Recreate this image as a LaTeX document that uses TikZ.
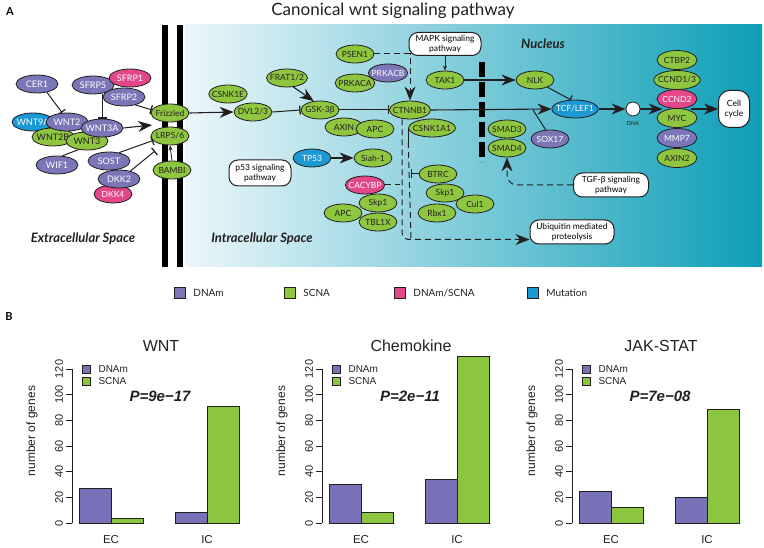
\documentclass[tikz,border=0pt]{standalone}
\usepackage{fontspec}
\setmainfont{Lato}
\newfontfamily\rplot{Liberation Sans}
\usepackage{xcolor}
\usetikzlibrary{positioning, arrows.meta, calc, shapes.geometric, backgrounds}
\definecolor{ink}{RGB}{35,31,32}
\definecolor{dnam}{RGB}{123,118,183}
\definecolor{scna}{RGB}{143,198,64}
\definecolor{mixc}{RGB}{228,71,137}
\definecolor{mut}{RGB}{28,152,212}
\definecolor{tealL}{RGB}{236,247,250}
\definecolor{tealM}{RGB}{90,186,205}
\definecolor{tealR}{RGB}{12,158,183}
\definecolor{barP}{RGB}{120,115,185}
\definecolor{barG}{RGB}{140,197,62}

\begin{document}
\begin{tikzpicture}[
  x=1pt, y=-1pt,
  gene/.style={ellipse, draw=ink, line width=0.8pt, minimum width=38pt,
               minimum height=18pt, inner xsep=-2.5pt, inner ysep=0.5pt,
               font=\fontsize{8.5}{9}\selectfont},
  sc/.style={gene, fill=scna, text=ink},
  dm/.style={gene, fill=dnam, text=white},
  mx/.style={gene, fill=mixc, text=white},
  mu/.style={gene, fill=mut, text=white},
  ext/.style={minimum width=42pt, minimum height=18pt, font=\fontsize{9}{10}\selectfont},
  tall/.style={minimum width=40pt, minimum height=19pt},
  pathbox/.style={rectangle, rounded corners=9pt, draw=ink, line width=1pt,
                  fill=white, align=center, inner sep=1.5pt,
                  font=\fontsize{8.5}{9.5}\selectfont},
  region/.style={font=\bfseries\itshape\fontsize{13}{14}\selectfont, text=ink},
  act/.style={-{Stealth[length=14pt,width=11pt,inset=4.5pt]}, line width=1.1pt, draw=ink},
  tip/.style={-{Stealth[length=5pt,width=4pt]}, line width=0.8pt, draw=ink},
  inh/.style={-{Bar[width=9pt,line width=1.3pt]}, line width=1pt, draw=ink},
  dsh/.style={dash pattern=on 6pt off 4pt, line width=1pt, draw=ink},
  key/.style={rectangle, draw=ink, line width=0.8pt, minimum size=11pt, inner sep=0},
  keytext/.style={anchor=west, font=\fontsize{10}{11}\selectfont, text=ink},
]
\useasboundingbox (0,0) rectangle (764,548);

% Panel A: headings
\node[font=\bfseries\fontsize{11}{12}\selectfont] (labA) at (10,12) {A};
\node[font=\fontsize{17}{18}\selectfont, text=ink] (title) at (393,11) {Canonical wnt signaling pathway};

% Extracellular space
\node[dm, ext] (cer1)  at (37,84)   {CER1};
\node[dm, ext] (sfrp5) at (93,85)   {SFRP5};
\node[mx, ext] (sfrp1) at (130,78)  {SFRP1};
\node[dm, ext] (sfrp2) at (124,97)  {SFRP2};
\node[mu, ext] (wnt9a) at (33,122)  {WNT9A};
\node[sc, ext] (wnt2b) at (53,137)  {WNT2B};
\node[sc, ext] (wnt3)  at (87,141)  {WNT3};
\node[dm, ext] (wnt2)  at (67,122)  {WNT2};
\node[dm, ext] (wnt3a) at (102,128) {WNT3A};
\node[dm, ext] (wif1)  at (57,165)  {WIF1};
\node[dm, ext] (sost)  at (109,161) {SOST};
\node[mx]      (dkk4)  at (113,194) {DKK4};
\node[dm, ext] (dkk2)  at (119,179) {DKK2};
\node[region] (extra) at (83,239) {Extracellular Space};

% Membrane receptors
\node[sc] (frizzled) at (170,113) {Frizzled};
\node[sc] (lrp)      at (170,136) {LRP5/6};
\node[sc] (bambi)    at (172,170) {BAMBI};
\coordinate (rec)    at (152,125);
\coordinate (dkkend) at (155,151);

% Cytoplasm
\node[sc] (csnk1e)  at (228,94)  {CSNK1E};
\node[sc] (dvl)     at (253,112) {DVL2/3};
\node[sc] (frat)    at (287,78)  {FRAT1/2};
\node[sc] (gsk)     at (320,110) {GSK-3β};
\node[sc] (psen1)   at (355,54)  {PSEN1};
\node[sc] (prkaca)  at (355,83)  {PRKACA};
\node[dm] (prkacb)  at (388,73)  {PRKACB};
\node[sc] (ctnnb1)  at (410,110) {CTNNB1};
\node[sc] (axin)    at (344,127) {AXIN};
\node[sc] (apca)    at (375,129) {APC};
\node[sc] (csnk1a1) at (432,128) {CSNK1A1};
\node[mu] (tp53)    at (312,158) {TP53};
\node[pathbox, minimum width=62pt, minimum height=26pt] (p53) at (260,173) {p53 signaling\\pathway};
\node[sc] (siah)    at (373,158) {Siah-1};
\node[mx] (cacybp)  at (365,185) {CACYBP};
\node[sc] (apcb)    at (343,213) {APC};
\node[sc] (skpb)    at (378,203) {Skp1};
\node[sc] (tbl1x)   at (378,222) {TBL1X};
\node[sc] (cul1)    at (475,204) {Cul1};
\node[sc] (btrc)    at (438,174) {BTRC};
\node[sc] (skpa)    at (445,193) {Skp1};
\node[sc] (rbx1)    at (437,213) {Rbx1};
\node[pathbox, minimum width=72pt, minimum height=23pt] (mapk) at (445,44) {MAPK signaling\\pathway};
\node[sc] (tak1)    at (445,80)  {TAK1};
\node[pathbox, minimum width=84pt, minimum height=24pt] (ubi) at (572,232) {Ubiquitin mediated\\proteolysis};
\coordinate (deg) at (411,238);
\node[region] (intra) at (262,239) {Intracellular Space};

% Nucleus
\node[region] (nucl) at (543,44) {Nucleus};
\node[sc] (nlk)   at (535,80)  {NLK};
\node[sc] (smad3) at (507,129) {SMAD3};
\node[sc] (smad4) at (507,148) {SMAD4};
\node[dm] (sox17) at (550,139) {SOX17};
\node[mu, minimum width=42pt] (tcf) at (575,109) {TCF/LEF1};
\coordinate (soxj) at (533,110);
\node[circle, draw=ink, line width=0.8pt, fill=white, minimum size=14pt, inner sep=0] (dna) at (633,109) {};
\node[font=\fontsize{5.5}{6}\selectfont, text=ink] (dnalab) at (633,124) {DNA};
\node[sc, tall] (ctbp2)  at (677,60)  {CTBP2};
\node[sc, tall] (ccnd13) at (677,80)  {CCND1/3};
\node[mx, tall] (ccnd2)  at (677,99)  {CCND2};
\node[sc, tall] (myc)    at (677,118) {MYC};
\node[dm, tall] (mmp7)   at (677,138) {MMP7};
\node[sc, tall] (axin2)  at (677,158) {AXIN2};
\node[pathbox, rounded corners=11pt, minimum width=31pt, minimum height=37pt,
      font=\fontsize{8.5}{10}\selectfont] (cell) at (734,109) {Cell\\cycle};
\node[pathbox, minimum width=75pt, minimum height=24pt] (tgf) at (611,185) {TGF-β signaling\\pathway};

% Legend
\node[key, fill=dnam] (kdnam) at (180,293) {};
\node[keytext] at ([xshift=4pt]kdnam.east) {DNAm};
\node[key, fill=scna] (kscna) at (290,293) {};
\node[keytext] at ([xshift=4pt]kscna.east) {SCNA};
\node[key, fill=mixc] (kmix) at (400,293) {};
\node[keytext] at ([xshift=4pt]kmix.east) {DNAm/SCNA};
\node[key, fill=mut] (kmut) at (533,293) {};
\node[keytext] at ([xshift=4pt]kmut.east) {Mutation};

\begin{scope}[on background layer]
  % cell and nuclear compartments
  \shade[left color=tealL, middle color=tealM, right color=tealR] (185,25) rectangle (762,267);
  \fill[black] (162,25) rectangle (168,267);
  \fill[black] (177,25) rectangle (183,267);
  \draw[black, line width=6pt, dash pattern=on 15pt off 5pt] (482,62) -- (482,162);

  % extracellular interactions
  \draw[inh] (cer1.-40) -- ([xshift=-5pt]wnt2.north);
  \draw[inh] (sfrp5.south -| wnt3a.north) -- (wnt3a.north);
  \draw[inh] (sfrp2.-35) -- (frizzled.170);
  \draw[act] (wnt3a.east) -- (rec);
  \draw[ink, line width=1pt] (wif1.60) -- (wnt3.225);
  \draw[inh] (sost.40) -- (lrp.195);
  \draw[inh] (dkk2.35) -- (dkkend);
  \draw[tip] (bambi.north) -- (lrp.south);

  % cytoplasm
  \draw[act] (frizzled.east) -- (dvl.west);
  \draw[inh] (dvl.east) -- (gsk.west);
  \draw[act] (frat.-55) -- (gsk.125);
  \draw[inh] (gsk.east) -- (ctnnb1.west);
  \draw[dsh, -{Stealth[length=14pt,width=11pt,inset=4.5pt]}] (psen1.east) -| (ctnnb1.north);
  \draw[act] (tp53.east) -- (siah.west);
  \draw[dsh, rounded corners=7pt, -{Stealth[length=14pt,width=11pt,inset=4.5pt]}]
    ([xshift=-8pt]ctnnb1.south) |- ([yshift=5pt]ubi.south west);
  \draw[dsh] (cacybp.east) -- ++(15,0);
  \draw[ink, line width=1pt] (csnk1a1.west) -- ++(0,14);
  \draw[dsh] ([yshift=-14pt]csnk1a1.west) -- (deg);
  \draw[inh] (btrc.west) -- (btrc.west -| deg);

  % nucleus
  \draw[tip] (mapk.south) -- (tak1.north);
  \draw[act] (tak1.east) -- (nlk.west);
  \draw[act] (ctnnb1.east) -- (tcf.west);
  \draw[ink, line width=1pt] (soxj) -- (sox17.115);
  \draw[inh] (nlk.-30) -- (tcf.115);
  \draw[act] (tcf.east) -- (dna.west);
  \draw[act] (dna.east) -- (dna.east -| ccnd2.south west);
  \draw[act] (cell.west -| ccnd2.south east) -- (cell.west);
  \draw[dsh, rounded corners=10pt, -{Stealth[length=14pt,width=11pt,inset=4.5pt]}]
    (tgf.west) -| (smad4.south);
\end{scope}

% Panel B: bar charts
\node[font=\bfseries\fontsize{11}{12}\selectfont] (labB) at (9,317) {B};
\foreach \ox/\ttl/\pv/\ea/\eb/\ia/\ib in {0/WNT/9e−17/27/4/8/91,
    250/Chemokine/2e−11/30/8/34/130, 500/JAK-STAT/7e−08/25/12/20/89} {
  \begin{scope}[xshift=\ox pt, font=\rplot]
    \node[font=\rplot\fontsize{16}{17}\selectfont, text=ink] at (161,346) {\ttl};
    \draw[ink, line width=0.6pt] (72,523) -- (72,369);
    \foreach \t in {0,20,...,120} {
      \draw[ink, line width=0.6pt] (72,{523-1.283*\t}) -- (66,{523-1.283*\t});
      \node[rotate=90, font=\rplot\fontsize{11}{12}\selectfont, text=ink] at (59,{523-1.283*\t}) {\t};
    }
    \node[rotate=90, font=\rplot\fontsize{12}{13}\selectfont, text=ink] at (32,431) {number of genes};
    \draw[ink, line width=0.6pt, fill=barP] (79,523) rectangle (111,{523-1.283*\ea});
    \draw[ink, line width=0.6pt, fill=barG] (111,523) rectangle (143,{523-1.283*\eb});
    \draw[ink, line width=0.6pt, fill=barP] (175,523) rectangle (207,{523-1.283*\ia});
    \draw[ink, line width=0.6pt, fill=barG] (207,523) rectangle (239,{523-1.283*\ib});
    \node[font=\rplot\fontsize{11.5}{12}\selectfont, text=ink] at (111,540) {EC};
    \node[font=\rplot\fontsize{11.5}{12}\selectfont, text=ink] at (207,540) {IC};
    \draw[ink, line width=0.6pt, fill=barP] (82,365) rectangle (90,373);
    \draw[ink, line width=0.6pt, fill=barG] (82,377) rectangle (90,385);
    \node[anchor=west, font=\rplot\fontsize{10}{11}\selectfont, text=ink] at (95,369) {DNAm};
    \node[anchor=west, font=\rplot\fontsize{10}{11}\selectfont, text=ink] at (95,381) {SCNA};
    \node[font=\rplot\bfseries\itshape\fontsize{15}{16}\selectfont, text=ink] at (160,396) {P=\pv};
  \end{scope}
}
\end{tikzpicture}
\end{document}
